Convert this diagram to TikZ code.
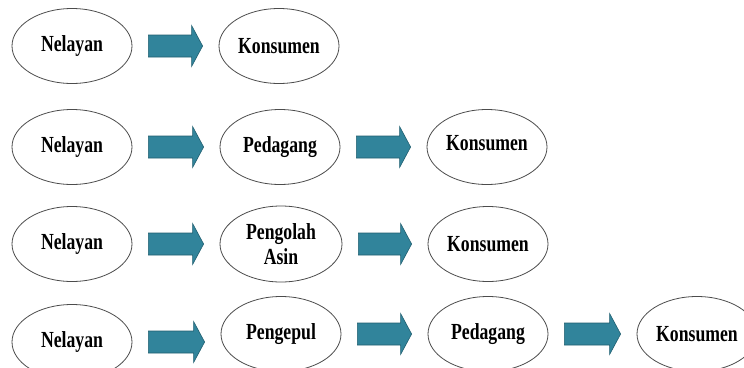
\documentclass[tikz,border=0pt]{standalone}
\usepackage{fontspec}
\newfontfamily\labfont[FakeStretch=0.77]{Liberation Serif}
\usetikzlibrary{shapes.geometric,calc}
\definecolor{arrowfill}{RGB}{49,132,155}
\definecolor{arrowline}{RGB}{32,95,112}
\newcommand\flowarrow[2]{%
  \draw[blockarrow] let \p1=($(#1.east)+(16,0)$), \p2=($(#2.west)+(-16,0)$) in
    (\x1,\y1+11pt) -- (\x2-11pt,\y1+11pt) -- (\x2-11pt,\y1+20.5pt) -- (\x2,\y1)
    -- (\x2-11pt,\y1-20.5pt) -- (\x2-11pt,\y1-11pt) -- (\x1,\y1-11pt) -- cycle;}
\begin{document}
\begin{tikzpicture}[x=1pt,y=-1pt,
  place/.style={ellipse, draw=black!70, line width=0.8pt, minimum width=120pt,
    minimum height=75pt, inner sep=0pt, align=center,
    font=\labfont\bfseries\fontsize{23}{25}\selectfont},
  blockarrow/.style={fill=arrowfill, draw=arrowline, line width=0.6pt, line join=miter}]
\clip (0,0) rectangle (744,367);
\fill[white] (0,0) rectangle (744,367);
% row 1
\node[place] (n1) at (72,46) {Nelayan};
\node[place] (k1) at (279,46) {Konsumen};
% row 2
\node[place] (n2) at (72,147) {Nelayan};
\node[place] (p2) at (280,147) {Pedagang};
\node[place] (k2) at (487,147) {\raisebox{4pt}[\height][\depth]{Konsumen}};
% row 3
\node[place] (n3) at (72,244) {Nelayan};
\node[place, minimum width=122pt, minimum height=76pt] (o3) at (281,244) {Pengolah\\Asin};
\node[place] (k3) at (488,244) {Konsumen};
% row 4
\node[place] (n4) at (72,342) {Nelayan};
\node[place] (g4) at (281,334) {Pengepul};
\node[place] (p4) at (488,334) {Pedagang};
\node[place] (k4) at (697,334) {Konsumen};
% arrows
\flowarrow{n1}{k1}
\flowarrow{n2}{p2}
\flowarrow{p2}{k2}
\flowarrow{n3}{o3}
\flowarrow{o3}{k3}
\flowarrow{n4}{g4}
\flowarrow{g4}{p4}
\flowarrow{p4}{k4}
\end{tikzpicture}
\end{document}
